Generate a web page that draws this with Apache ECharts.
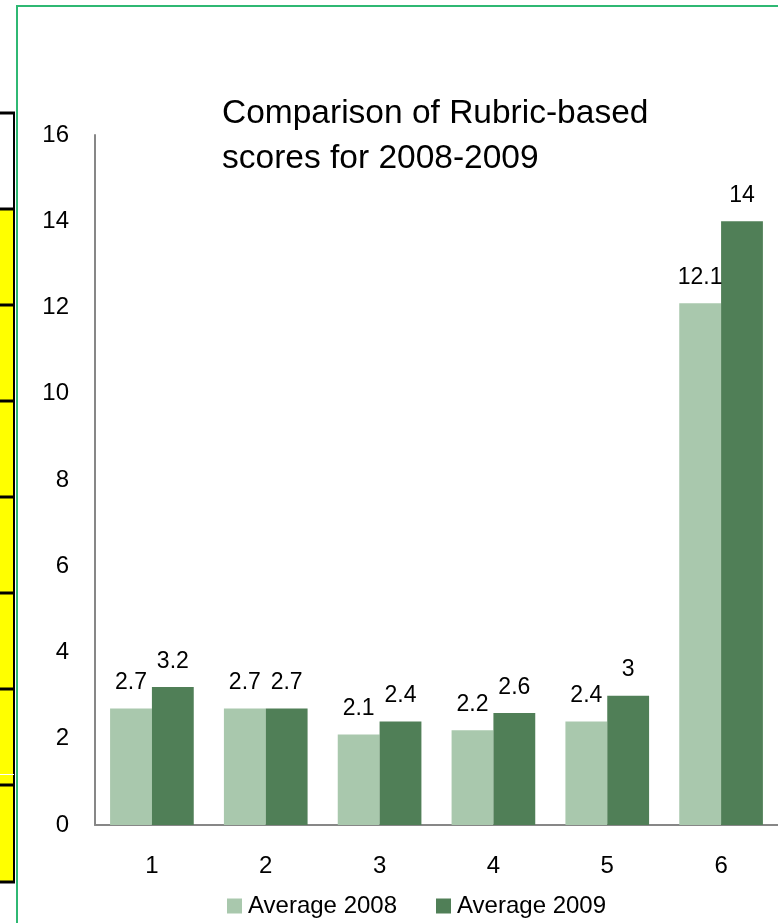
<!DOCTYPE html>
<html>
<head>
<meta charset="utf-8">
<script src="https://cdn.jsdelivr.net/npm/echarts@6/dist/echarts.min.js"></script>
<style>
  html, body { margin: 0; padding: 0; background: #ffffff; }
  #chart { width: 778px; height: 923px; }
</style>
</head>
<body>
<div id="chart"></div>
<script>
// Rubric categories and yearly averages
const categories = ['1', '2', '3', '4', '5', '6'];
const avg2008 = [2.7, 2.7, 2.1, 2.2, 2.4, 12.1];
const avg2009 = [3.2, 2.7, 2.4, 2.6, 3, 14];
const seriesNames = ['Average 2008', 'Average 2009'];
const yTicks = { min: 0, max: 16, interval: 2 };

const FONT = '"Liberation Sans", Arial, sans-serif';
const LIGHT = '#A9C8AD';
const DARK = '#507F57';
const AXIS = '#878787';

// Side table strip: row boundaries of the neighbouring sheet cells
const rowLines = [113, 209, 305, 401, 497, 593, 689, 785, 882];

const sideGraphics = [];
// yellow fill for the cells below the header cell
sideGraphics.push({
  type: 'rect', z: 0,
  shape: { x: 0, y: 209, width: 14, height: 673 },
  style: { fill: '#FFFF00' }
});
rowLines.forEach(function (y) {
  sideGraphics.push({
    type: 'line', z: 1,
    shape: { x1: 0, y1: y, x2: 15, y2: y },
    style: { stroke: '#000000', lineWidth: 3 }
  });
});
sideGraphics.push({
  type: 'line', z: 1,
  shape: { x1: 14, y1: 112, x2: 14, y2: 883 },
  style: { stroke: '#000000', lineWidth: 2 }
});
sideGraphics.push({
  type: 'line', z: 1,
  shape: { x1: 0, y1: 774.5, x2: 14, y2: 774.5 },
  style: { stroke: '#ffffff', lineWidth: 1 }
});
// green chart frame
sideGraphics.push({
  type: 'polyline', z: 2,
  shape: { points: [[17, 923], [17, 6], [778, 6]] },
  style: { stroke: '#2FB873', lineWidth: 2, fill: null }
});

const chart = echarts.init(document.getElementById('chart'), null, { renderer: 'canvas' });

chart.setOption({
  animation: false,
  backgroundColor: '#ffffff',
  textStyle: { fontFamily: FONT },
  title: {
    text: 'Comparison of Rubric-based\nscores for 2008-2009',
    left: 217,
    top: 86,
    textStyle: {
      fontFamily: FONT,
      fontSize: 33.5,
      fontWeight: 'normal',
      color: '#000000',
      lineHeight: 45
    }
  },
  legend: {
    data: seriesNames,
    left: 222,
    top: 889,
    icon: 'rect',
    itemWidth: 15,
    itemHeight: 15,
    itemGap: 39,
    textStyle: { fontFamily: FONT, fontSize: 24, color: '#000000', padding: [0, 0, 0, 1] }
  },
  grid: {
    left: 95,
    top: 135,
    width: 685,
    bottom: 98,
    containLabel: false
  },
  xAxis: {
    type: 'category',
    data: categories,
    axisLine: { show: true, lineStyle: { color: AXIS, width: 2 } },
    axisTick: { show: false },
    axisLabel: { fontFamily: FONT, fontSize: 24, color: '#000000', margin: 29 },
    splitLine: { show: false }
  },
  yAxis: {
    type: 'value',
    min: yTicks.min,
    max: yTicks.max,
    interval: yTicks.interval,
    axisLine: { show: true, lineStyle: { color: AXIS, width: 2 } },
    axisTick: { show: false },
    axisLabel: { fontFamily: FONT, fontSize: 24, color: '#000000', margin: 26 },
    splitLine: { show: false }
  },
  series: [
    {
      name: seriesNames[0],
      type: 'bar',
      data: avg2008,
      barGap: '0%',
      barCategoryGap: '26.5%',
      itemStyle: { color: LIGHT },
      label: {
        show: true, position: 'top', distance: 14,
        fontFamily: FONT, fontSize: 23, color: '#000000'
      }
    },
    {
      name: seriesNames[1],
      type: 'bar',
      data: avg2009,
      barGap: '0%',
      barCategoryGap: '26.5%',
      itemStyle: { color: DARK },
      label: {
        show: true, position: 'top', distance: 14,
        fontFamily: FONT, fontSize: 23, color: '#000000'
      }
    }
  ],
  graphic: sideGraphics
});
</script>
</body>
</html>
